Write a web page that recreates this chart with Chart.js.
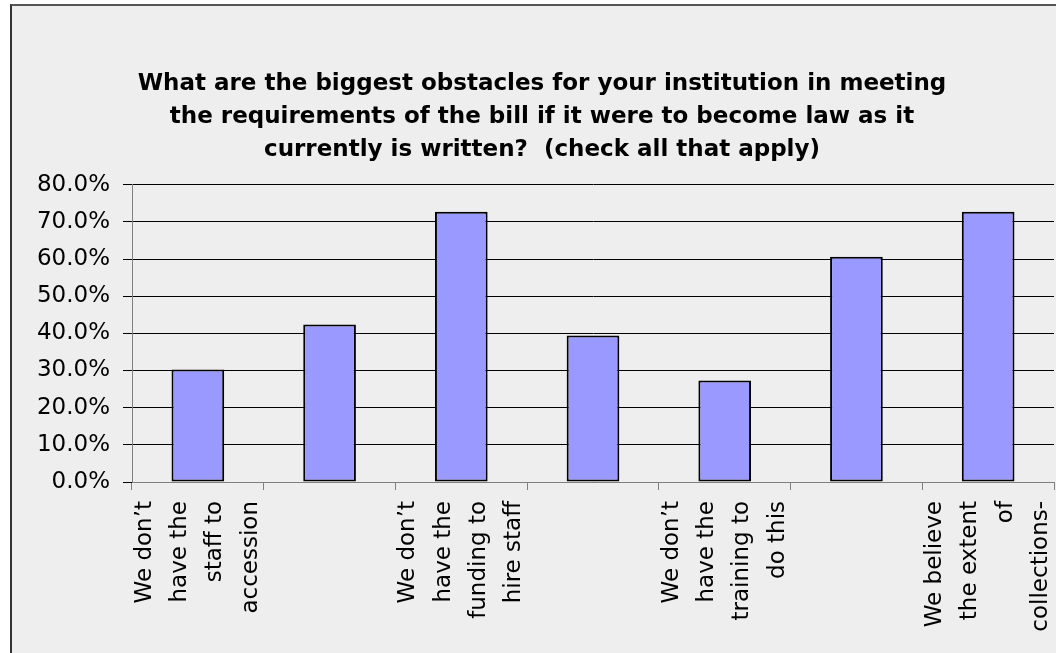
<!DOCTYPE html>
<html>
<head>
<meta charset="utf-8">
<script src="https://cdn.jsdelivr.net/npm/chart.js@4"></script>
<style>
  html, body { margin: 0; padding: 0; background: #fff; overflow: hidden; }
  #frame {
    position: absolute; left: 10px; top: 4px;
    width: 1060px; height: 647px;
    border-left: 2px solid #333; border-top: 2px solid #555;
    background: #eeeeee;
  }
</style>
</head>
<body>
<div id="frame"><canvas id="chart" width="1060" height="647"></canvas></div>
<script>
const titleLines = [
    'What are the biggest obstacles for your institution in meeting',
    'the requirements of the bill if it were to become law as it',
    'currently is written?  (check all that apply)'
];

// only every other category label is shown in the original
const categories = [
    ['We don’t', 'have the', 'staff to', 'accession'],
    '',
    ['We don’t', 'have the', 'funding to', 'hire staff'],
    '',
    ['We don’t', 'have the', 'training to', 'do this'],
    '',
    ['We believe', 'the extent', 'of', 'collections-']
];

const percentValues = [30.3, 42.4, 72.7, 39.4, 27.3, 60.6, 72.7];

const yTicks = [0, 10, 20, 30, 40, 50, 60, 70, 80];

const font = 'DejaVu Sans';

new Chart(document.getElementById('chart'), {
    type: 'bar',
    data: {
        labels: categories,
        datasets: [{
            data: percentValues,
            backgroundColor: '#9999ff',
            borderColor: '#000000',
            borderWidth: 2,
            borderSkipped: false,
            categoryPercentage: 1,
            barPercentage: 0.4
        }]
    },
    options: {
        responsive: false,
        animation: false,
        layout: { padding: 0 },
        plugins: {
            legend: { display: false },
            tooltip: { enabled: false },
            title: {
                display: true,
                text: titleLines,
                color: '#000',
                font: { family: font, size: 23, weight: 'bold', lineHeight: 1.43 },
                padding: { top: 62, bottom: 18 }
            }
        },
        scales: {
            x: {
                type: 'category',
                grid: { display: true, drawOnChartArea: false, drawTicks: true, tickLength: 8, color: '#808080' },
                border: { display: true, color: '#808080', width: 1 },
                ticks: {
                    autoSkip: false,
                    minRotation: 90,
                    maxRotation: 90,
                    labelOffset: -53,
                    padding: 11,
                    color: '#000',
                    font: { family: font, size: 23, lineHeight: 1.535 }
                },
                afterFit: (s) => {
                    s.height = 171;
                    s.paddingLeft = 0;
                    s.paddingRight = 18;
                }
            },
            y: {
                type: 'linear',
                min: yTicks[0],
                max: yTicks[yTicks.length - 1],
                afterBuildTicks: (s) => { s.ticks = yTicks.map(v => ({ value: v })); },
                grid: { color: '#000', lineWidth: 1, tickLength: 9, drawTicks: true },
                border: { display: true, color: '#808080', width: 1 },
                ticks: {
                    padding: 13,
                    color: '#000',
                    font: { family: font, size: 23 },
                    callback: (v) => v.toFixed(1) + '%'
                },
                afterFit: (s) => { s.width = 120; }
            }
        }
    }
});
</script>
</body>
</html>
